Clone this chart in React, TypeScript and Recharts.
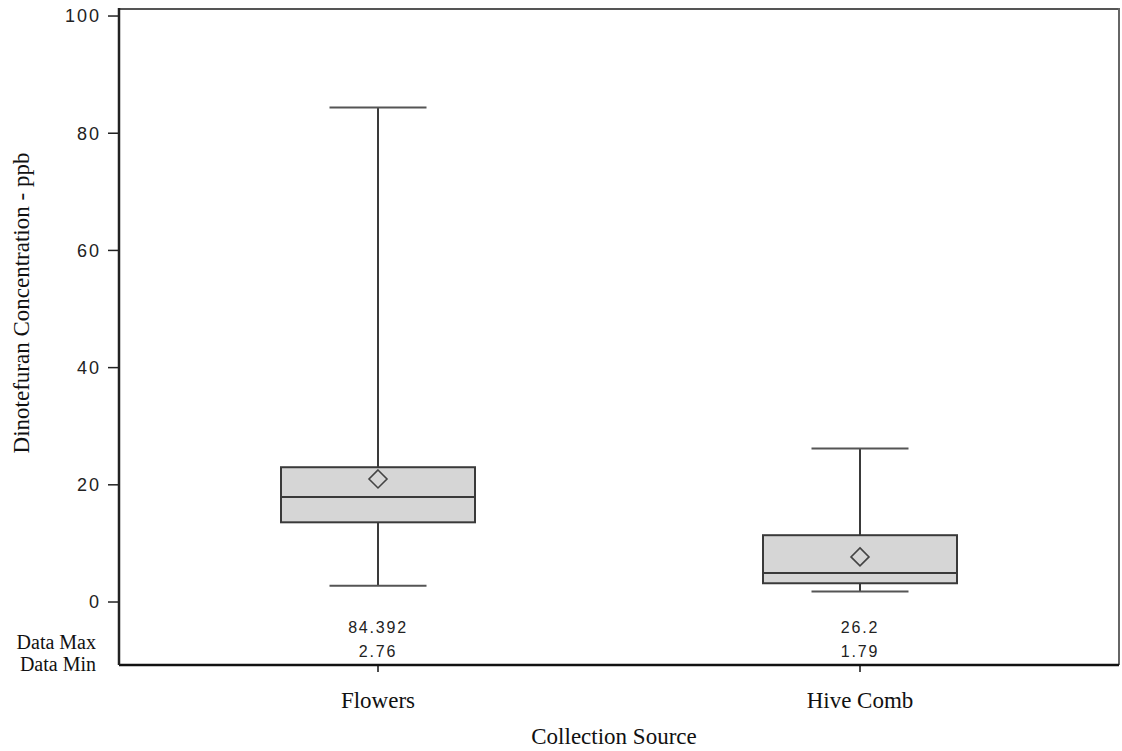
import { Bar, ComposedChart, Customized, XAxis, YAxis } from "recharts";

const categories = ["Flowers", "Hive Comb"];
const dataMin = [2.76, 1.79];
const q1 = [13.6, 3.2];
const median = [17.9, 4.95];
const q3 = [23.0, 11.4];
const dataMax = [84.392, 26.2];
const mean = [21.0, 7.7];
const maxLabels = ["84.392", "26.2"];
const minLabels = ["2.76", "1.79"];
const yTicks = [0, 20, 40, 60, 80, 100];

const SERIF = '"Liberation Serif", "Times New Roman", serif';
const SANS = '"Liberation Sans", Arial, sans-serif';

const data = categories.map((name, i) => ({
  name,
  range: [dataMin[i], dataMax[i]],
  min: dataMin[i],
  q1: q1[i],
  median: median[i],
  q3: q3[i],
  max: dataMax[i],
  mean: mean[i],
  maxLabel: maxLabels[i],
  minLabel: minLabels[i],
}));

function BoxShape(props: any) {
  const { x, y, width, height, payload } = props;
  const top = Math.min(y, y + height);
  const span = Math.abs(height);
  const hi = payload.max;
  const lo = payload.min;
  const pix = (v: number) => top + (span * (hi - v)) / (hi - lo);
  const cx = x + width / 2;
  const capHalf = width / 4;
  const stroke = "#3a3a3a";
  const zero = pix(0);
  const d = 9;
  const my = pix(payload.mean);
  return (
    <g>
      <line x1={cx} x2={cx} y1={pix(payload.max)} y2={pix(payload.q3)} stroke={stroke} strokeWidth={2} />
      <line x1={cx} x2={cx} y1={pix(payload.q1)} y2={pix(payload.min)} stroke={stroke} strokeWidth={2} />
      <line x1={cx - capHalf} x2={cx + capHalf} y1={pix(payload.max)} y2={pix(payload.max)} stroke="#555" strokeWidth={2} />
      <line x1={cx - capHalf} x2={cx + capHalf} y1={pix(payload.min)} y2={pix(payload.min)} stroke="#555" strokeWidth={2} />
      <rect
        x={x}
        y={pix(payload.q3)}
        width={width}
        height={pix(payload.q1) - pix(payload.q3)}
        fill="#d6d6d6"
        stroke={stroke}
        strokeWidth={2}
      />
      <line x1={x} x2={x + width} y1={pix(payload.median)} y2={pix(payload.median)} stroke={stroke} strokeWidth={2} />
      <polygon
        points={`${cx},${my - d} ${cx + d},${my} ${cx},${my + d} ${cx - d},${my}`}
        fill="none"
        stroke="#444"
        strokeWidth={1.6}
      />
      <text x={cx} y={zero + 31} textAnchor="middle" fontFamily={SANS} fontSize={16} letterSpacing={1.8} fill="#222">
        {payload.maxLabel}
      </text>
      <text x={cx} y={zero + 55} textAnchor="middle" fontFamily={SANS} fontSize={16} letterSpacing={1.8} fill="#222">
        {payload.minLabel}
      </text>
    </g>
  );
}

function XTick(props: any) {
  const { x, payload } = props;
  return (
    <g>
      <line x1={x} x2={x} y1={665} y2={672} stroke="#111" strokeWidth={1.5} />
      <text x={x} y={708} textAnchor="middle" fontFamily={SERIF} fontSize={23} fill="#111">
        {payload.value}
      </text>
    </g>
  );
}

function Frame() {
  return (
    <g>
      <line x1={119} x2={1119} y1={9} y2={9} stroke="#555" strokeWidth={2} />
      <line x1={1119} x2={1119} y1={8} y2={665} stroke="#666" strokeWidth={2} />
      <g fontFamily={SERIF} fill="#111">
        <text x={96} y={649} textAnchor="end" fontSize={20}>
          Data Max
        </text>
        <text x={96} y={671} textAnchor="end" fontSize={20}>
          Data Min
        </text>
        <text x={614} y={744} textAnchor="middle" fontSize={23}>
          Collection Source
        </text>
        <text x={29} y={303} textAnchor="middle" fontSize={23} transform="rotate(-90 29 303)">
          Dinotefuran Concentration - ppb
        </text>
      </g>
    </g>
  );
}

export default function App() {
  return (
    <div style={{ position: "absolute", left: 0, top: 0, background: "#fff" }}>
      <ComposedChart width={1122} height={751} data={data} margin={{ top: 8, right: 3, left: 59, bottom: 6 }}>
        <XAxis
          dataKey="name"
          height={80}
          padding={{ left: 18, right: 18 }}
          axisLine={{ stroke: "#111", strokeWidth: 2.5 }}
          tickLine={false}
          tick={<XTick />}
        />
        <YAxis
          width={60}
          domain={[-10.75, 101.37]}
          ticks={yTicks}
          allowDataOverflow
          type="number"
          axisLine={{ stroke: "#222", strokeWidth: 2.5 }}
          tickLine={{ stroke: "#222", strokeWidth: 1.5 }}
          tickSize={11}
          tickMargin={7}
          tick={{ fontFamily: SANS, fontSize: 18, fill: "#222", letterSpacing: 2 }}
        />
        <Bar dataKey="range" barSize={194} isAnimationActive={false} shape={<BoxShape />} />
        <Customized component={<Frame />} />
      </ComposedChart>
    </div>
  );
}
